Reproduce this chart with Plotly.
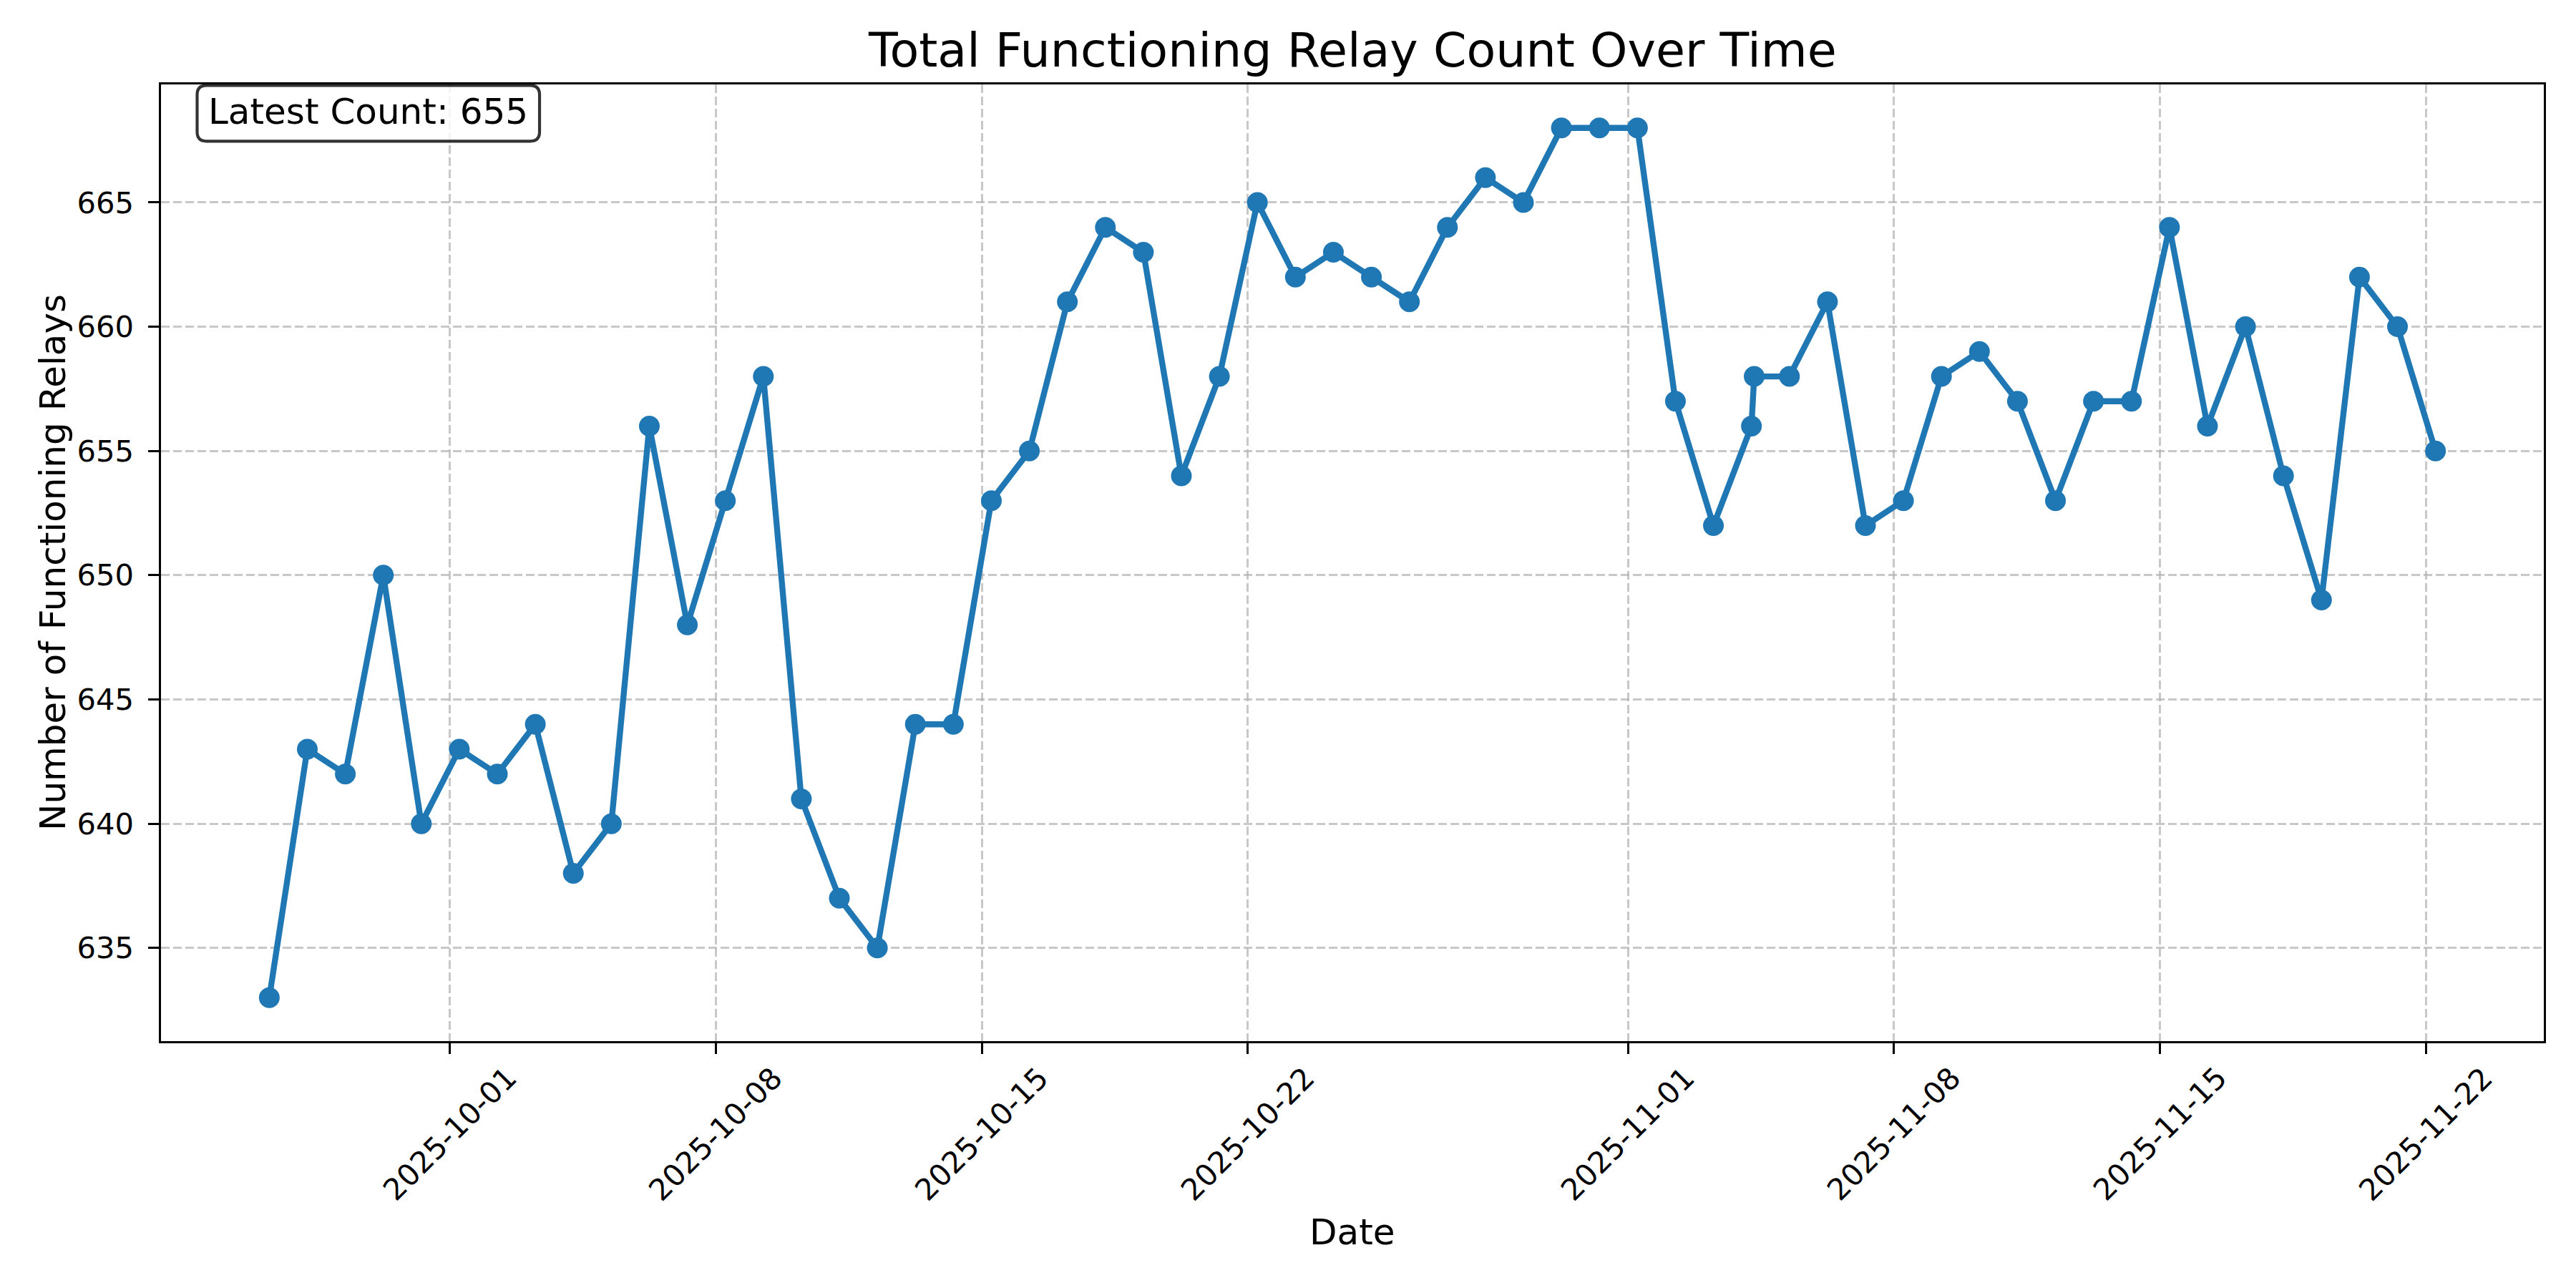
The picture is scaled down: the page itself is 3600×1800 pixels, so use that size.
import pandas as pd
import plotly.graph_objects as go

# ---------------- data ----------------
dates = [
    "2025-09-26 06:00", "2025-09-27 06:00", "2025-09-28 06:00", "2025-09-29 06:00", "2025-09-30 06:00",
    "2025-10-01 06:00", "2025-10-02 06:00", "2025-10-03 06:00", "2025-10-04 06:00", "2025-10-05 06:00",
    "2025-10-06 06:00", "2025-10-07 06:00", "2025-10-08 06:00", "2025-10-09 06:00", "2025-10-10 06:00",
    "2025-10-11 06:00", "2025-10-12 06:00", "2025-10-13 06:00", "2025-10-14 06:00", "2025-10-15 06:00",
    "2025-10-16 06:00", "2025-10-17 06:00", "2025-10-18 06:00", "2025-10-19 06:00", "2025-10-20 06:00",
    "2025-10-21 06:00", "2025-10-22 06:00", "2025-10-23 06:00", "2025-10-24 06:00", "2025-10-25 06:00",
    "2025-10-26 06:00", "2025-10-27 06:00", "2025-10-28 06:00", "2025-10-29 06:00", "2025-10-30 06:00",
    "2025-10-31 06:00", "2025-11-01 06:00", "2025-11-02 06:00", "2025-11-03 06:00", "2025-11-04 06:00",
    "2025-11-04 07:45", "2025-11-05 06:00", "2025-11-06 06:00", "2025-11-07 06:00", "2025-11-08 06:00",
    "2025-11-09 06:00", "2025-11-10 06:00", "2025-11-11 06:00", "2025-11-12 06:00", "2025-11-13 06:00",
    "2025-11-14 06:00", "2025-11-15 06:00", "2025-11-16 06:00", "2025-11-17 06:00", "2025-11-18 06:00",
    "2025-11-19 06:00", "2025-11-20 06:00", "2025-11-21 06:00", "2025-11-22 06:00",
]
counts = [
    633, 643, 642, 650, 640,
    643, 642, 644, 638, 640,
    656, 648, 653, 658, 641,
    637, 635, 644, 644, 653,
    655, 661, 664, 663, 654,
    658, 665, 662, 663, 662,
    661, 664, 666, 665, 668,
    668, 668, 657, 652, 656,
    658, 658, 661, 652, 653,
    658, 659, 657, 653, 657,
    657, 664, 656, 660, 654,
    649, 662, 660, 655,
]
x_tick_dates = ["2025-10-01", "2025-10-08", "2025-10-15", "2025-10-22",
                "2025-11-01", "2025-11-08", "2025-11-15", "2025-11-22"]
y_tick_vals = [635, 640, 645, 650, 655, 660, 665]

title_text = "Total Functioning Relay Count Over Time"
x_label = "Date"
y_label = "Number of Functioning Relays"
latest_text = f"Latest Count: {counts[-1]}"

# ---------------- layout constants (px) ----------------
W, H = 3600, 1800
L, R, T, B = 224.5, 45, 118, 345
PW = W - L - R
PH = H - T - B
FONT = "DejaVu Sans"
BLUE = "#1f77b4"
PT = 300 / 72.0

def px_x(px):
    return (px - L) / PW

def px_y(py):
    return 1 - (py - T) / PH

# axis ranges like matplotlib's 5% margins
ts = pd.to_datetime(dates)
span = ts.max() - ts.min()
x_range = [ts.min() - span * 0.05, ts.max() + span * 0.05]
ymin, ymax = min(counts), max(counts)
y_range = [ymin - (ymax - ymin) * 0.05, ymax + (ymax - ymin) * 0.05]

fig = go.Figure()
fig.add_trace(go.Scatter(
    x=ts, y=counts, mode="lines+markers",
    line=dict(color=BLUE, width=2 * PT),
    marker=dict(color=BLUE, size=29, line=dict(width=0)),
    showlegend=False,
))

grid = dict(showgrid=True, gridcolor="rgba(176,176,176,0.7)", gridwidth=0.8 * PT,
            griddash="12px,5px")
axis_common = dict(showline=True, linecolor="black", linewidth=0.8 * PT, mirror=True,
                   ticks="outside", ticklen=3.5 * PT, tickwidth=0.8 * PT, tickcolor="black",
                   zeroline=False)

fig.update_xaxes(type="date", range=x_range, tickvals=pd.to_datetime(x_tick_dates),
                 showticklabels=False, **grid, **axis_common)
fig.update_yaxes(range=y_range, tickvals=y_tick_vals,
                 tickfont=dict(family=FONT, size=10 * PT, color="black"),
                 ticklabelstandoff=12, **grid, **axis_common)

annotations = []
for d in x_tick_dates:
    annotations.append(dict(
        x=pd.to_datetime(d), xref="x", y=-(1585 - (T + PH)) / PH, yref="paper",
        text=d, showarrow=False, textangle=-45, xanchor="center", yanchor="middle",
        font=dict(family=FONT, size=10 * PT, color="black"),
    ))

annotations.append(dict(x=0.5, xref="paper", y=px_y(70), yref="paper", text=title_text,
                        showarrow=False, xanchor="center", yanchor="middle",
                        font=dict(family=FONT, size=16 * PT, color="black")))
annotations.append(dict(x=0.5, xref="paper", y=px_y(1722), yref="paper", text=x_label,
                        showarrow=False, xanchor="center", yanchor="middle",
                        font=dict(family=FONT, size=12 * PT, color="black")))
annotations.append(dict(x=px_x(73), xref="paper", y=0.5, yref="paper", text=y_label,
                        showarrow=False, xanchor="center", yanchor="middle", textangle=-90,
                        font=dict(family=FONT, size=12 * PT, color="black")))

# rounded box for latest count
bx0, bx1, by0, by1 = 275, 753.6, 119.3, 197.3
r = 13
xa, xb = px_x(bx0), px_x(bx1)
ya, yb = px_y(by0), px_y(by1)  # top, bottom in paper
rx, ry = r / PW, r / PH
path = (f"M {xa+rx},{ya} L {xb-rx},{ya} Q {xb},{ya} {xb},{ya-ry} "
        f"L {xb},{yb+ry} Q {xb},{yb} {xb-rx},{yb} "
        f"L {xa+rx},{yb} Q {xa},{yb} {xa},{yb+ry} "
        f"L {xa},{ya-ry} Q {xa},{ya} {xa+rx},{ya} Z")
fig.add_shape(type="path", path=path, xref="paper", yref="paper",
              fillcolor="rgba(255,255,255,0.8)", line=dict(color="rgba(0,0,0,0.8)", width=1 * PT),
              layer="above")
annotations.append(dict(x=px_x((bx0 + bx1) / 2), xref="paper", y=px_y(156), yref="paper",
                        text=latest_text, showarrow=False, xanchor="center", yanchor="middle",
                        font=dict(family=FONT, size=12 * PT, color="black")))

fig.update_layout(
    width=W, height=H,
    margin=dict(l=L, r=R, t=T, b=B, autoexpand=False),
    paper_bgcolor="white", plot_bgcolor="white",
    annotations=annotations,
    font=dict(family=FONT),
)

fig.write_html("out.html")
